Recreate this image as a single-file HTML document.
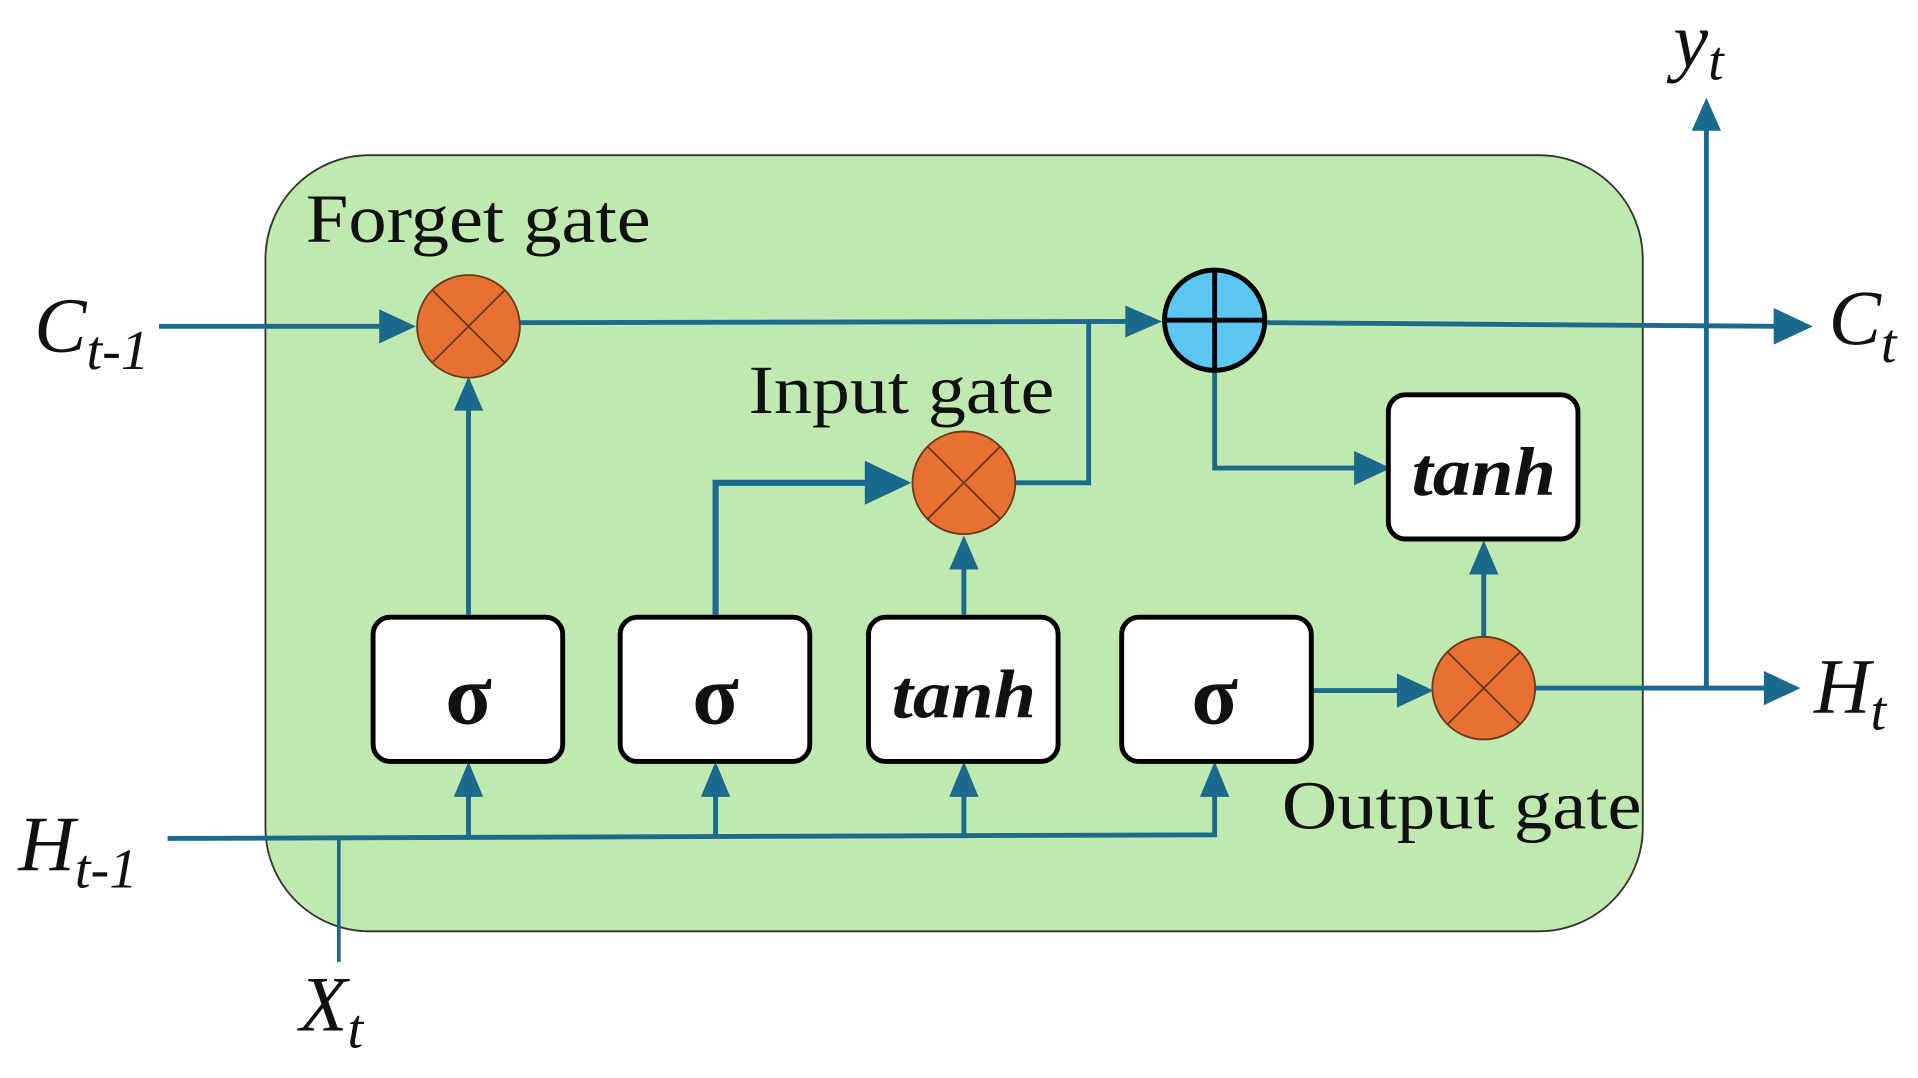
<!DOCTYPE html>
<html><head><meta charset="utf-8"><style>
html,body{margin:0;padding:0;background:#fff;width:1918px;height:1078px;overflow:hidden}
svg{display:block}
text{font-family:"Liberation Serif",serif;fill:#111}
</style></head><body>
<svg width="1918" height="1078" viewBox="0 0 1568 882" preserveAspectRatio="none">
<rect x="217" y="127" width="1126" height="635" rx="85" fill="#c0e9b0" stroke="#333" stroke-width="1.5"/>
<g stroke="#1b6a8e" stroke-width="4" fill="none">
<line x1="130" y1="267" x2="315" y2="267"/>
<line x1="425" y1="264" x2="925" y2="263"/>
<polyline points="830,395 890,395 890,263"/>
<line x1="1035" y1="264" x2="1455" y2="267"/>
<polyline points="993,304 993,383 1110,383"/>
<polyline points="585,503 585,395 710,395" stroke-width="5"/>
<line x1="788" y1="503" x2="788" y2="465"/>
<line x1="383" y1="503" x2="383" y2="335"/>
<line x1="1072" y1="565" x2="1145" y2="565"/>
<line x1="1213" y1="521" x2="1213" y2="468"/>
<line x1="1255" y1="563" x2="1445" y2="563"/>
<line x1="1395" y1="563" x2="1395" y2="105"/>
<polyline points="137,686 993,683 993,650"/>
<line x1="383" y1="685" x2="383" y2="650"/>
<line x1="585" y1="684" x2="585" y2="650"/>
<line x1="788" y1="684" x2="788" y2="650"/>
<line x1="277" y1="686" x2="277" y2="787" stroke-width="3"/>
</g>
<g fill="#1b6a8e">
<polygon points="340,267 310,253 310,281"/>
<polygon points="950,263 920,250 920,276"/>
<polygon points="1482,267 1450,252 1450,282"/>
<polygon points="1137,383 1107,369 1107,397"/>
<polygon points="745,395 707,377 707,413"/>
<polygon points="788,438 776,466 800,466"/>
<polygon points="383,308 371,336 395,336"/>
<polygon points="1172,565 1142,551 1142,579"/>
<polygon points="1213,442 1201,470 1225,470"/>
<polygon points="1472,563 1442,549 1442,577"/>
<polygon points="1395,80 1383,107 1407,107"/>
<polygon points="383,623 371,652 395,652"/>
<polygon points="585,623 573,652 597,652"/>
<polygon points="788,623 776,652 800,652"/>
<polygon points="993,623 981,652 1005,652"/>
</g>
<g stroke="#6a3a1a" stroke-width="1.5">
<circle cx="383" cy="267" r="42" fill="#e87033"/>
<line x1="353" y1="237" x2="413" y2="297"/><line x1="413" y1="237" x2="353" y2="297"/>
<circle cx="788" cy="395" r="42" fill="#e87033"/>
<line x1="758" y1="365" x2="818" y2="425"/><line x1="818" y1="365" x2="758" y2="425"/>
<circle cx="1213" cy="563" r="42" fill="#e87033"/>
<line x1="1183" y1="533" x2="1243" y2="593"/><line x1="1243" y1="533" x2="1183" y2="593"/>
</g>
<g stroke="#000" stroke-width="4">
<circle cx="993" cy="262" r="41" fill="#5cc6f2"/>
<line x1="952" y1="262" x2="1034" y2="262"/><line x1="993" y1="221" x2="993" y2="303"/>
</g>
<g fill="#fff" stroke="#000" stroke-width="4">
<rect x="305" y="505" width="155" height="118" rx="14"/>
<rect x="507" y="505" width="155" height="118" rx="14"/>
<rect x="710" y="505" width="155" height="118" rx="14"/>
<rect x="917" y="505" width="155" height="118" rx="14"/>
<rect x="1135" y="323" width="155" height="118" rx="14"/>
</g>
<g font-weight="bold" font-size="70" text-anchor="middle">
<text x="383" y="592">σ</text><text x="585" y="592">σ</text><text x="993" y="592">σ</text>
<text x="788" y="587" font-style="italic" font-size="56" textLength="118" lengthAdjust="spacingAndGlyphs">tanh</text>
<text x="1213" y="405" font-style="italic" font-size="56" textLength="118" lengthAdjust="spacingAndGlyphs">tanh</text>
</g>
<g font-size="56">
<text x="250" y="198" textLength="282" lengthAdjust="spacingAndGlyphs">Forget gate</text>
<text x="612" y="338" textLength="250" lengthAdjust="spacingAndGlyphs">Input gate</text>
<text x="1048" y="678" textLength="294" lengthAdjust="spacingAndGlyphs">Output gate</text>
</g>
<g font-style="italic" font-size="64">
<text x="28" y="288">C<tspan font-size="46" dy="14">t-1</tspan></text>
<text x="15" y="712">H<tspan font-size="46" dy="14">t-1</tspan></text>
<text x="1495" y="282">C<tspan font-size="46" dy="14">t</tspan></text>
<text x="1483" y="583">H<tspan font-size="46" dy="14">t</tspan></text>
<text x="1368" y="55">y<tspan font-size="46" dy="10">t</tspan></text>
<text x="245" y="843">X<tspan font-size="46" dy="14">t</tspan></text>
</g>
</svg>
</body></html>
